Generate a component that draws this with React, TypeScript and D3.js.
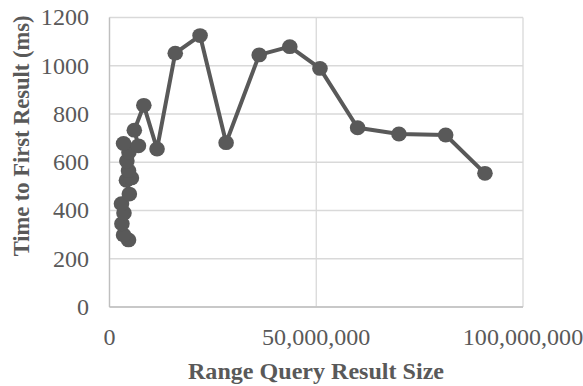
import React from 'react';
import * as d3 from 'd3';

// result size (rows) and time to first result (ms), in plotted order
const resultSizes = [
  4600000, 3400000, 3000000, 3500000, 2900000, 4800000, 4100000, 5300000,
  4600000, 4200000, 4700000, 3400000, 7000000, 6000000, 8300000, 11500000,
  15900000, 21900000, 28200000, 36200000, 43600000, 50900000, 60000000, 70000000,
  81300000, 90800000,
];
const firstResultMs = [
  278, 298, 345, 390, 428, 468, 525, 535,
  565, 605, 642, 678, 668, 733, 836, 655,
  1052, 1125, 681, 1045, 1079, 989, 743, 717,
  713, 554,
];
const xTicks = [0, 50000000, 100000000];
const yTicks = [0, 200, 400, 600, 800, 1000, 1200];

const W = 583;
const H = 386;
const textColor = '#595959';
const font = '"Liberation Serif", "Times New Roman", serif';
const sx = 1.07; // the picture is slightly wider than tall

export default function App() {
  const x = d3.scaleLinear().domain([0, 100000000]).range([109.5, 523]);
  const y = d3.scaleLinear().domain([0, 1200]).range([307, 17.5]);
  const fmt = d3.format(',');

  const pts = resultSizes.map((s, i) => [x(s), y(firstResultMs[i])] as [number, number]);
  const line = d3.line()(pts) || '';

  return (
    <svg
      width={W}
      height={H}
      style={{ position: 'absolute', left: 0, top: 0, background: '#fff' }}
      fontFamily={font}
    >
      {/* grid */}
      {yTicks.map(t => (
        <line key={'gy' + t} x1={x(0)} x2={x(100000000)} y1={y(t)} y2={y(t)}
          stroke="#d9d9d9" strokeWidth={1.3} />
      ))}
      {xTicks.map(t => (
        <line key={'gx' + t} x1={x(t)} x2={x(t)} y1={y(0)} y2={y(1200)}
          stroke="#d9d9d9" strokeWidth={1.3} />
      ))}
      <line x1={x(0)} x2={x(0)} y1={y(0)} y2={y(1200)} stroke="#bfbfbf" strokeWidth={1.3} />
      <line x1={x(0)} x2={x(100000000)} y1={y(0)} y2={y(0)} stroke="#bfbfbf" strokeWidth={1.3} />

      {/* tick labels */}
      {yTicks.map(t => (
        <text key={'ty' + t} transform={`translate(89,${y(t)}) scale(${sx},1)`} dy="0.35em"
          textAnchor="end" fontSize={22.5} fill={textColor}>{t}</text>
      ))}
      {xTicks.map(t => (
        <text key={'tx' + t} transform={`translate(${x(t)},337) scale(${sx},1)`} dy="0.35em"
          textAnchor="middle" fontSize={22.5} fill={textColor}>{fmt(t)}</text>
      ))}

      {/* series */}
      <path d={line} fill="none" stroke="#595959" strokeWidth={4} strokeLinejoin="round" />
      {pts.map((p, i) => (
        <ellipse key={i} cx={p[0]} cy={p[1]} rx={7.8} ry={7.4} fill="#595959" />
      ))}

      {/* axis titles */}
      <text transform={`translate(316,371) scale(${sx},1)`} dy="0.35em" textAnchor="middle"
        fontSize={22.5} fontWeight="bold" fill={textColor}>Range Query Result Size</text>
      <text transform={`translate(21,136) rotate(-90) scale(1,${sx})`} dy="0.35em"
        textAnchor="middle" fontSize={22.5} fontWeight="bold" fill={textColor}>
        Time to First Result (ms)
      </text>
    </svg>
  );
}
